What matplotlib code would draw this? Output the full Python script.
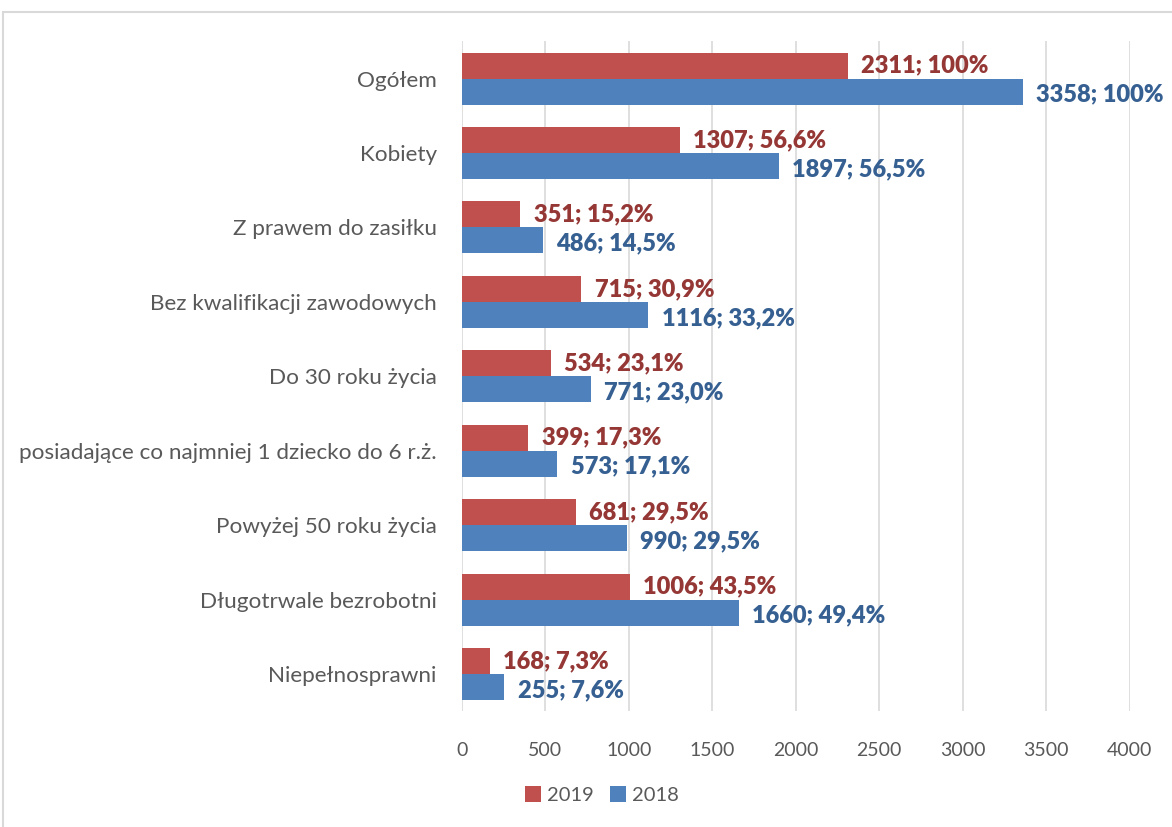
import matplotlib.pyplot as plt
import numpy as np
from matplotlib.patches import Rectangle

plt.rcParams['font.family'] = ['Lato', 'DejaVu Sans']

categories = ["Ogółem", "Kobiety", "Z prawem do zasiłku", "Bez kwalifikacji zawodowych",
              "Do 30 roku życia", "posiadające co najmniej 1 dziecko do 6 r.ż.",
              "Powyżej 50 roku życia", "Długotrwale bezrobotni", "Niepełnosprawni"]
vals2019 = [2311, 1307, 351, 715, 534, 399, 681, 1006, 168]
pct2019 = ["100%", "56,6%", "15,2%", "30,9%", "23,1%", "17,3%", "29,5%", "43,5%", "7,3%"]
vals2018 = [3358, 1897, 486, 1116, 771, 573, 990, 1660, 255]
pct2018 = ["100%", "56,5%", "14,5%", "33,2%", "23,0%", "17,1%", "29,5%", "49,4%", "7,6%"]

red = '#C0504D'
blue = '#4F81BD'
red_txt = '#953735'
blue_txt = '#366092'

fig = plt.figure(figsize=(11.72, 8.27), dpi=100)
ax = fig.add_axes([0.394, 0.140, 0.570, 0.810])

y = np.arange(len(categories))
h = 0.35
ax.barh(y - h/2, vals2019, height=h, color=red, label='2019')
ax.barh(y + h/2, vals2018, height=h, color=blue, label='2018')

# etykiety danych: wartość; udział
for i in range(len(categories)):
    ax.text(vals2019[i] + 80, y[i] - h/2, f"{vals2019[i]}; {pct2019[i]}", va='center', ha='left',
            color=red_txt, fontsize=17, fontweight='heavy')
    ax.text(vals2018[i] + 80, y[i] + h/2 + 0.04, f"{vals2018[i]}; {pct2018[i]}", va='center', ha='left',
            color=blue_txt, fontsize=17, fontweight='heavy')

ax.set_xlim(0, 4000)
ax.set_ylim(len(categories) - 0.5, -0.5)
ax.set_xticks(np.arange(0, 4001, 500))
ax.set_yticks(y)
ax.set_yticklabels(categories, fontsize=16.2)
ax.tick_params(axis='both', length=0, labelcolor='#595959')
ax.tick_params(axis='x', pad=22, labelsize=14)
ax.tick_params(axis='y', pad=18)
ax.grid(axis='x', color='#D9D9D9', linewidth=1.2)
ax.set_axisbelow(True)
for s in ax.spines.values():
    s.set_visible(False)

ax.legend(loc='upper center', bbox_to_anchor=(0.21, -0.085), ncol=2, frameon=False,
          fontsize=14.5, labelcolor='#595959', handlelength=0.8, handleheight=0.8,
          handletextpad=0.3, columnspacing=0.8)

fig.patches.append(Rectangle((3/1172, -0.05), 1.1, 1 - 12/827 + 0.05, transform=fig.transFigure,
                             fill=False, edgecolor='#D9D9D9', linewidth=1.5))

fig.savefig('out.png', dpi=100)
